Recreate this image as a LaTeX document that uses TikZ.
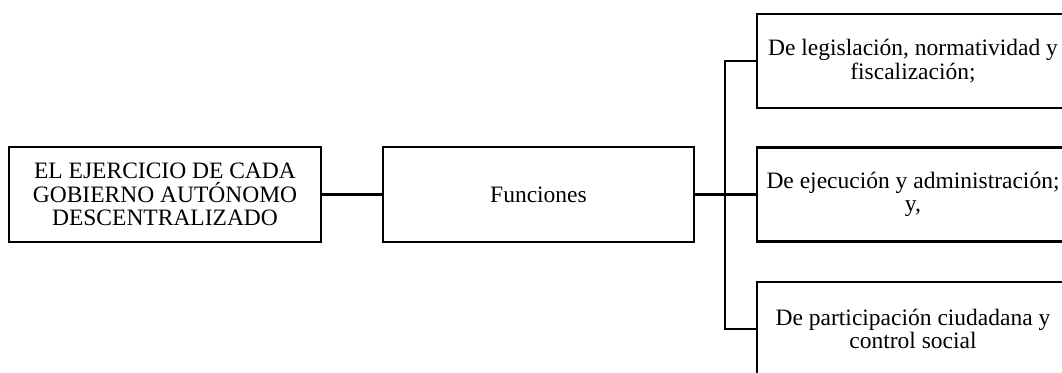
\documentclass[tikz,border=0pt]{standalone}
\usepackage{fontspec}
\setmainfont{Liberation Serif}
\begin{document}
\begin{tikzpicture}[x=1pt,y=1pt,
  box/.style={draw=black,line width=2.2pt,align=center,inner sep=0pt,
    font=\fontsize{23.5}{23.5}\selectfont},
  conn/.style={draw=black,line width=2.2pt}]
\useasboundingbox (0,0) rectangle (1062,372);
\clip (0,0) rectangle (1062,372);
\node[box,minimum width=312pt,minimum height=95pt] (gad) at (165,177.5)
  {EL EJERCICIO DE CADA\\GOBIERNO AUTÓNOMO\\DESCENTRALIZADO};
\node[box,minimum width=311pt,minimum height=95pt] (fun) at (538.5,177.5) {Funciones};
\node[box,minimum width=312pt,minimum height=94pt] (r1) at (913,311)
  {De legislación, normatividad y\\fiscalización;};
\node[box,minimum width=312pt,minimum height=94pt] (r2) at (913,177.5)
  {De ejecución y administración;\\y,};
\node[box,minimum width=312pt,minimum height=94pt] (r3) at (913,43)
  {De participación ciudadana y\\control social};
\coordinate (j) at (725,177);
\draw[conn] (gad.east) -- (fun.west);
\draw[conn] (fun.east) -- (r2.west);
\draw[conn] (j) |- (r1.west);
\draw[conn] (j) |- (r3.west);
\end{tikzpicture}
\end{document}
